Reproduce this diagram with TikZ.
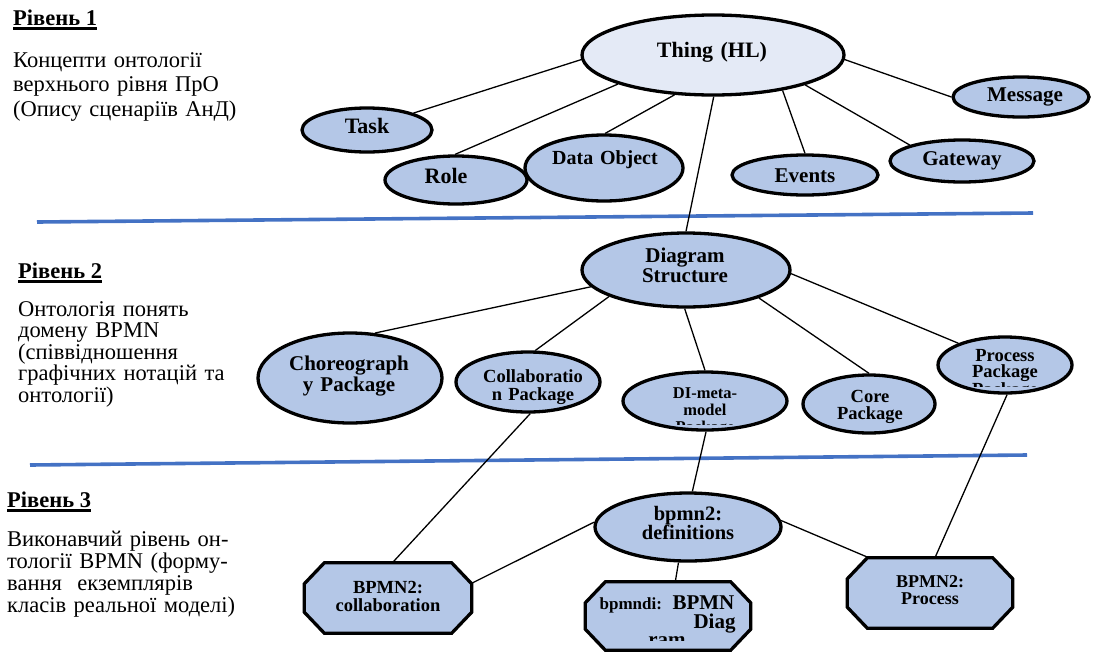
\documentclass[tikz,border=0pt]{standalone}
\usepackage{fontspec}
\setmainfont{Liberation Serif}
\usetikzlibrary{shapes.geometric}
\definecolor{nodefill}{HTML}{B4C7E7}
\definecolor{thingfill}{HTML}{E4EAF6}
\definecolor{sepblue}{HTML}{4472C4}
\newcommand{\setfs}[2]{\fontsize{#1}{#2}\selectfont}
\newcommand{\octbox}[1]{%
  \filldraw[octpath] ([xshift=20pt]#1.north west) -- ([xshift=-20pt]#1.north east)
    -- ([yshift=-21pt]#1.north east) -- ([yshift=21pt]#1.south east)
    -- ([xshift=-20pt]#1.south east) -- ([xshift=20pt]#1.south west)
    -- ([yshift=21pt]#1.south west) -- ([yshift=-21pt]#1.north west) -- cycle;}
\tikzset{
  ell/.style={ellipse, draw=black, line width=3.3pt, fill=nodefill, inner sep=0pt},
  octnode/.style={rectangle, draw=none, inner sep=0pt},
  octpath/.style={draw=black, line width=3.3pt, fill=nodefill, line join=miter},
  conn/.style={line width=1.3pt, draw=black},
  sepline/.style={line width=3.6pt, draw=sepblue},
  lbl/.style 2 args={anchor=base, inner sep=0pt, align=center, text width=230pt, font=\setfs{#1}{#2}\bfseries},
  lvl/.style={anchor=base west, inner sep=0pt, font=\setfs{22.5}{24}\bfseries},
  desc/.style 2 args={anchor=base west, inner sep=0pt, align=left, text width=300pt, font=\setfs{#1}{#2}},
  uline/.style={line width=2.6pt, draw=black},
}
\begin{document}
\begin{tikzpicture}[x=1pt,y=-1pt]
\useasboundingbox (0,0) rectangle (1100,651);
% separators
\coordinate (s1a) at (37,222); \coordinate (s1b) at (1033,213);
\coordinate (s2a) at (30,465); \coordinate (s2b) at (1027,455);
\draw[sepline] (s1a) -- (s1b);
\draw[sepline] (s2a) -- (s2b);

% level 1 shapes
\node[ell, fill=thingfill, minimum width=262pt, minimum height=80pt] (thing) at (713,55) {};
\node[ell, minimum width=130pt, minimum height=44pt] (task) at (367,130) {};
\node[ell, minimum width=142pt, minimum height=48pt] (role) at (456,180) {};
\node[ell, minimum width=158pt, minimum height=66pt] (data) at (604,168) {};
\node[ell, minimum width=146pt, minimum height=40pt] (events) at (805,175) {};
\node[ell, minimum width=144pt, minimum height=42pt] (gateway) at (962,161) {};
\node[ell, minimum width=136pt, minimum height=40pt] (message) at (1021,97) {};
% level 2 shapes
\node[ell, minimum width=208pt, minimum height=74pt] (diag) at (686,270) {};
\node[ell, minimum width=184pt, minimum height=90pt] (choreo) at (350,378) {};
\node[ell, minimum width=144pt, minimum height=60pt] (collab) at (528,382) {};
\node[ell, minimum width=164pt, minimum height=58pt] (di) at (705,401) {};
\node[ell, minimum width=132pt, minimum height=58pt] (core) at (869,404) {};
\node[ell, minimum width=134pt, minimum height=56pt] (procpkg) at (1005,365) {};
% level 3 shapes
\node[ell, minimum width=186pt, minimum height=68pt] (defs) at (688,527) {};
\node[octnode, minimum width=167pt, minimum height=70pt] (bcollab) at (388,598) {};
\node[octnode, minimum width=165pt, minimum height=68pt] (bpmndi) at (668,616) {};
\node[octnode, minimum width=165pt, minimum height=70pt] (bproc) at (930,593) {};
\octbox{bcollab}
\octbox{bpmndi}
\octbox{bproc}

% connectors
\draw[conn] (thing.182) -- (task.20);
\draw[conn] (thing.197) -- (role.92);
\draw[conn] (thing.226) -- (data.88);
\draw[conn] (thing.271) -- (diag.90);
\draw[conn] (thing.333) -- (events.90);
\draw[conn] (thing.342) -- (gateway.163);
\draw[conn] (thing.358) -- (message.180);
\draw[conn] (diag.190) -- (choreo.61);
\draw[conn] (diag.199) -- (collab.77);
\draw[conn] (diag.268) -- (di.90);
\draw[conn] (diag.339) -- (core.90);
\draw[conn] (diag.358) -- (procpkg.155);
\draw[conn] (collab.274) -- (bcollab.83);
\draw[conn] (di.272) -- (defs.83);
\draw[conn] (defs.177) -- (bcollab.10);
\draw[conn] (defs.255) -- (bpmndi.78);
\draw[conn] (defs.4) -- (bproc.150);
\draw[conn] (procpkg.274) -- (bproc.82);

% labels
\node[lbl={22}{24}] (thingL) at (712,57) {Thing (HL)};
\node[lbl={22}{24}] (taskL) at (367,133) {Task};
\node[lbl={22}{24}] (roleL) at (446,183) {Role};
\node[lbl={20}{22}] (dataL) at (605,164) {Data Object};
\node[lbl={21}{22}] (eventsL) at (805,182) {Events};
\node[lbl={21}{22}] (gatewayL) at (962,165) {Gateway};
\node[lbl={21}{22}] (messageL) at (1025,101) {Message};
\node[lbl={21}{20}] (diagL) at (685,262) {Diagram\\Structure};
\node[lbl={21}{21}] (choreoL) at (349,370) {Choreograph\\y Package};
\node[lbl={18.5}{18}] (collabL) at (533,382) {Collaboratio\\n Package};
\begin{scope}
  \clip (620,375) rectangle (790,424);
  \node[lbl={16.5}{17}] (diL) at (705,398) {DI-meta-\\model\\Package};
\end{scope}
\node[lbl={18.5}{17}] (coreL) at (870,402) {Core\\Package};
\begin{scope}
  \clip (935,335) rectangle (1075,386);
  \node[lbl={18.5}{16.5}] (procL) at (1005,361) {Process\\Package\\Package};
\end{scope}
\node[lbl={20.5}{19}] (defsL) at (688,520) {bpmn2:\\definitions};
\node[lbl={18.5}{18}] (bcollabL) at (388,593) {BPMN2:\\collaboration};
\begin{scope}
  \clip (590,585) rectangle (750,640);
  \node[lbl={21}{18}] (bpmndiL) at (667,609) {{\setfs{17}{18}bpmndi:} BPMN\\\makebox[137pt][r]{Diag}\\ram};
\end{scope}
\node[lbl={18}{17}] (bprocL) at (930,587) {BPMN2:\\Process};

% left column
\node[lvl] (lvl1) at (13,25) {Рівень 1};
\draw[uline] ([yshift=-3.5pt]lvl1.base west) -- ([yshift=-3.5pt]lvl1.base east);
\node[desc={22.5}{24.5}] (desc1) at (13,67) {Концепти онтології\\верхнього рівня ПрО\\(Опису сценаріїв АнД)};

\node[lvl] (lvl2) at (18,278) {Рівень 2};
\draw[uline] ([yshift=-3.5pt]lvl2.base west) -- ([yshift=-3.5pt]lvl2.base east);
\node[desc={22.5}{21.5}] (desc2) at (18,316) {Онтологія понять\\домену BPMN\\(співвідношення\\графічних нотацій та\\онтології)};

\node[lvl] (lvl3) at (7,507) {Рівень 3};
\draw[uline] ([yshift=-3.5pt]lvl3.base west) -- ([yshift=-3.5pt]lvl3.base east);
\node[desc={22.5}{22.3}] (desc3) at (7,546) {Виконавчий рівень он-\\тології BPMN (форму-\\вання\hspace{8pt} екземплярів\\класів реальної моделі)};
\end{tikzpicture}
\end{document}
